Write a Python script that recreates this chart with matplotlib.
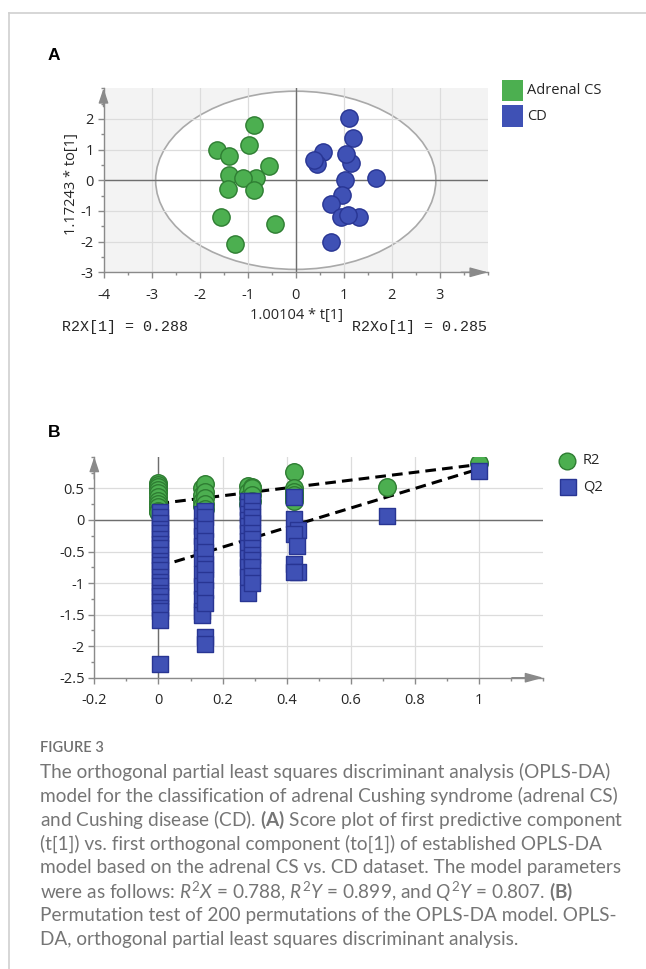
import matplotlib
matplotlib.use('Agg')
import matplotlib.pyplot as plt
from matplotlib.patches import Ellipse, Rectangle
from matplotlib.lines import Line2D
from matplotlib.ticker import MultipleLocator

plt.rcParams['mathtext.fontset'] = 'custom'
plt.rcParams['mathtext.rm'] = 'Lato'
plt.rcParams['mathtext.it'] = 'Lato:italic'
plt.rcParams['mathtext.bf'] = 'Lato:bold'

# ---------------- Panel A data (score plot) ----------------
cs_t = [-0.86, -0.98, -1.64, -1.38, -0.56, -1.38, -0.82, -1.10, -1.41, -0.87, -1.56, -0.44, -1.27]
cs_to = [1.79, 1.14, 1.00, 0.78, 0.46, 0.16, 0.08, 0.08, -0.28, -0.33, -1.21, -1.44, -2.09]
cd_t = [1.11, 1.20, 0.57, 0.44, 0.38, 1.14, 1.04, 1.67, 1.02, 0.97, 0.73, 0.95, 1.31, 1.09, 0.73]
cd_to = [2.03, 1.38, 0.92, 0.54, 0.67, 0.57, 0.87, 0.07, 0.02, -0.49, -0.76, -1.19, -1.21, -1.12, -2.01]
ellipse_t, ellipse_to = 2.915, 2.905
A_xticks = [-4, -3, -2, -1, 0, 1, 2, 3]
A_yticks = [-3, -2, -1, 0, 1, 2]
A_groups = ['Adrenal CS', 'CD']

# ---------------- Panel B data (permutation test) ----------------
r2_x = ([0.0] * 11 + [0.136] * 4 + [0.146] * 5 + [0.278] * 4 + [0.291] * 4
        + [0.424] * 6 + [0.714, 1.0])
r2_y = ([0.58, 0.55, 0.52, 0.48, 0.42, 0.36, 0.30, 0.25, 0.20, 0.15, 0.12]
        + [0.50, 0.40, 0.30, 0.22] + [0.57, 0.45, 0.35, 0.26, 0.18]
        + [0.54, 0.45, 0.35, 0.26] + [0.52, 0.50, 0.40, 0.30]
        + [0.76, 0.50, 0.45, 0.40, 0.35, 0.30] + [0.52, 0.91])
q2_x = ([0.005] * 22
        + [0.136] * 10 + [0.146] * 12
        + [0.278] * 12 + [0.291] * 12
        + [0.424, 0.424, 0.436, 0.424, 0.433, 0.424, 0.436, 0.424]
        + [0.714, 1.0])
q2_y = ([0.12, 0.05, -0.05, -0.15, -0.21, -0.30, -0.38, -0.45, -0.55, -0.65, -0.71,
         -0.80, -0.90, -0.98, -1.05, -1.15, -1.21, -1.30, -1.40, -1.45, -1.58, -2.28]
        + [0.10, -0.10, -0.25, -0.42, -0.60, -0.85, -1.05, -1.25, -1.44, -1.50]
        + [0.15, 0.04, -0.15, -0.34, -0.50, -0.70, -0.77, -0.95, -1.11, -1.32, -1.85, -1.97]
        + [0.30, 0.20, 0.10, 0.00, -0.10, -0.20, -0.34, -0.45, -0.60, -0.75, -0.90, -1.15]
        + [0.30, 0.15, 0.05, -0.05, -0.20, -0.30, -0.45, -0.55, -0.63, -0.75, -0.88, -1.00]
        + [0.36, 0.02, -0.16, -0.23, -0.41, -0.69, -0.83, -0.82]
        + [0.06, 0.78])
r2_line_x = [0.0, 1.0]
r2_line_y = [0.26, 0.88]
q2_line_x = [0.0, 1.0]
q2_line_y = [-0.74, 0.81]
B_xticks = [-0.2, 0, 0.2, 0.4, 0.6, 0.8, 1]
B_xticklabels = ['-0.2', '0', '0.2', '0.4', '0.6', '0.8', '1']
B_yticks = [-2.5, -2, -1.5, -1, -0.5, 0, 0.5]
B_yticklabels = ['-2.5', '-2', '-1.5', '-1', '-0.5', '0', '0.5']
B_series = ['R2', 'Q2']

GREEN = '#4caf50'
GREEN_E = '#2e7d32'
BLUE = '#3f51b5'
BLUE_E = '#283593'
SPINE = '#8a8a8a'
GRID = '#dcdcdc'
ZERO = '#6e6e6e'
TXT = '#262626'
UI = 'Open Sans'

W, H = 646, 969
fig = plt.figure(figsize=(W / 100, H / 100), dpi=100)
fig.patch.set_facecolor('white')


def fx(px):
    return px / W


def fy(py):
    return 1 - py / H


# frame lines
fig.add_artist(Line2D([fx(9.3), 1.0], [fy(12.7), fy(12.7)], color='#d0d0d0', lw=1.2))
fig.add_artist(Line2D([fx(9.3), fx(9.3)], [fy(12.7), 0.0], color='#d0d0d0', lw=1.2))


def style_axes(ax, xminor, yminor):
    for s in ['top', 'right']:
        ax.spines[s].set_visible(False)
    for s in ['left', 'bottom']:
        ax.spines[s].set_color(SPINE)
        ax.spines[s].set_linewidth(1.0)
    ax.xaxis.set_minor_locator(MultipleLocator(xminor))
    ax.yaxis.set_minor_locator(MultipleLocator(yminor))
    ax.tick_params(which='major', length=4, width=1, color=SPINE, labelsize=10.5,
                   labelcolor=TXT)
    ax.tick_params(which='minor', length=2.5, width=1, color=SPINE)
    ax.tick_params(axis='x', which='major', pad=7)
    ax.tick_params(axis='y', which='major', pad=3)
    for lab in ax.get_xticklabels() + ax.get_yticklabels():
        lab.set_family(UI)
    ax.set_axisbelow(True)
    ax.grid(True, which='major', color=GRID, lw=0.9)
    # arrows
    ax.annotate('', xy=(0, 1.0), xytext=(0, 0.9), xycoords='axes fraction',
                arrowprops=dict(arrowstyle='-|>,head_length=0.9,head_width=0.3',
                                color=SPINE, lw=1.0, shrinkA=0, shrinkB=0))
    ax.annotate('', xy=(1.0, 0), xytext=(0.93, 0), xycoords='axes fraction',
                arrowprops=dict(arrowstyle='-|>,head_length=1.1,head_width=0.3',
                                color=SPINE, lw=1.0, shrinkA=0, shrinkB=0))


# ---------------- Panel A ----------------
axA = fig.add_axes([fx(103.5), fy(272.3), fx(488) - fx(103.5), fy(88.3) - fy(272.3)])
axA.set_facecolor('#f3f3f3')
axA.set_xlim(-4, 4)
axA.set_ylim(-3, 3)
axA.set_xticks(A_xticks)
axA.set_xticklabels([str(v) for v in A_xticks])
axA.set_yticks(A_yticks)
axA.set_yticklabels([str(v) for v in A_yticks])
style_axes(axA, 0.5, 0.5)
axA.add_patch(Ellipse((0, 0), 2 * ellipse_t, 2 * ellipse_to, fc='white', ec='#a9a9a9',
                      lw=1.2, zorder=0.4))
axA.axhline(0, color=ZERO, lw=1.0, zorder=1)
axA.axvline(0, color=ZERO, lw=1.0, zorder=1)
axA.scatter(cs_t, cs_to, s=155, c=GREEN, edgecolors=GREEN_E, linewidths=1.0, zorder=3)
axA.scatter(cd_t, cd_to, s=155, c=BLUE, edgecolors=BLUE_E, linewidths=1.0, zorder=3)

fig.text(fx(296), fy(315.7), '1.00104 * t[1]', ha='center', va='center', fontsize=10.5,
         family=UI, color=TXT)
fig.text(fx(71.7), fy(184), '1.17243 * to[1]', ha='center', va='center', rotation=90,
         fontsize=10.5, family=UI, color=TXT)
fig.text(fx(61.7), fy(327.3), 'R2X[1] = 0.288', ha='left', va='center', fontsize=10.8,
         family='Liberation Mono', color=TXT)
fig.text(fx(486.7), fy(327.3), 'R2Xo[1] = 0.285', ha='right', va='center', fontsize=10.8,
         family='Liberation Mono', color=TXT)

# legend A
for i, (name, col) in enumerate(zip(A_groups, [GREEN, BLUE])):
    top = 80 + i * 25.5
    fig.add_artist(Rectangle((fx(502.3), fy(top + 21)), fx(21), 21 / H, fc=col, ec='none',
                             transform=fig.transFigure))
    fig.text(fx(527), fy(top + 10.5), name, ha='left', va='center', fontsize=10.5,
             family=UI, color=TXT)

# ---------------- Panel B ----------------
axB = fig.add_axes([fx(94.3), fy(677.7), fx(543.3) - fx(94.3), fy(456.9) - fy(677.7)])
axB.set_facecolor('white')
axB.set_xlim(-0.2, 1.2)
axB.set_ylim(-2.5, 1.0)
axB.set_xticks(B_xticks)
axB.set_xticklabels(B_xticklabels)
axB.set_yticks(B_yticks)
axB.set_yticklabels(B_yticklabels)
style_axes(axB, 0.1, 0.25)
axB.axhline(0, color=ZERO, lw=1.0, zorder=1)
axB.axvline(0, color=ZERO, lw=1.0, zorder=1)
axB.plot(r2_line_x, r2_line_y, ls=(0, (3.5, 2)), color='black', lw=2.2, zorder=2)
axB.plot(q2_line_x, q2_line_y, ls=(0, (3.5, 2)), color='black', lw=2.2, zorder=2)
axB.scatter(r2_x, r2_y, s=160, marker='o', c=GREEN, edgecolors=GREEN_E, linewidths=1.0,
            zorder=3)
axB.scatter(q2_x, q2_y, s=122, marker='s', c=BLUE, edgecolors=BLUE_E, linewidths=1.0,
            zorder=4)

# legend B
fig.add_artist(Line2D([fx(566.7)], [fy(460.7)], marker='o', ms=12, mfc=GREEN, mec=GREEN_E,
                      mew=1.0, ls='none'))
fig.add_artist(Line2D([fx(567.7)], [fy(486.7)], marker='s', ms=11, mfc=BLUE, mec=BLUE_E,
                      mew=1.0, ls='none'))
fig.text(fx(582.7), fy(460.7), B_series[0], ha='left', va='center', fontsize=10.5, family=UI,
         color=TXT)
fig.text(fx(582.7), fy(486.7), B_series[1], ha='left', va='center', fontsize=10.5, family=UI,
         color=TXT)

# panel letters
fig.text(fx(53.8), fy(55.8), 'A', ha='center', va='center', fontsize=12.5, weight='bold',
         family='Liberation Sans', color='black')
fig.text(fx(53.8), fy(432.5), 'B', ha='center', va='center', fontsize=12.5, weight='bold',
         family='Liberation Sans', color='black')

# ---------------- caption ----------------
CAP = '#757575'
fig.text(fx(40), fy(752.3), 'FIGURE 3', ha='left', va='baseline', fontsize=10.5,
         family='Lato', weight='semibold', color='#707070')
lines = [
    'The orthogonal partial least squares discriminant analysis (OPLS-DA)',
    'model for the classification of adrenal Cushing syndrome (adrenal CS)',
    r'and Cushing disease (CD). $\mathbf{(A)}$ Score plot of first predictive component',
    '(t[1]) vs. first orthogonal component (to[1]) of established OPLS-DA',
    'model based on the adrenal CS vs. CD dataset. The model parameters',
    r'were as follows: $R^2X$ = 0.788, $R^2Y$ = 0.899, and $Q^2Y$ = 0.807. $\mathbf{(B)}$',
    'Permutation test of 200 permutations of the OPLS-DA model. OPLS-',
    'DA, orthogonal partial least squares discriminant analysis.',
]
fig.canvas.draw()
rend = fig.canvas.get_renderer()
probe = fig.text(0, 0, lines[4], fontsize=13, family='Lato')
wprobe = probe.get_window_extent(rend).width
probe.remove()
cap_fs = 13 * (620.6 - 40) / wprobe
for i, ln in enumerate(lines):
    fig.text(fx(40), fy(778.3 + i * 23.8), ln, ha='left', va='baseline', fontsize=cap_fs,
             family='Lato', color=CAP)

fig.savefig('out.png', dpi=100, facecolor='white')
